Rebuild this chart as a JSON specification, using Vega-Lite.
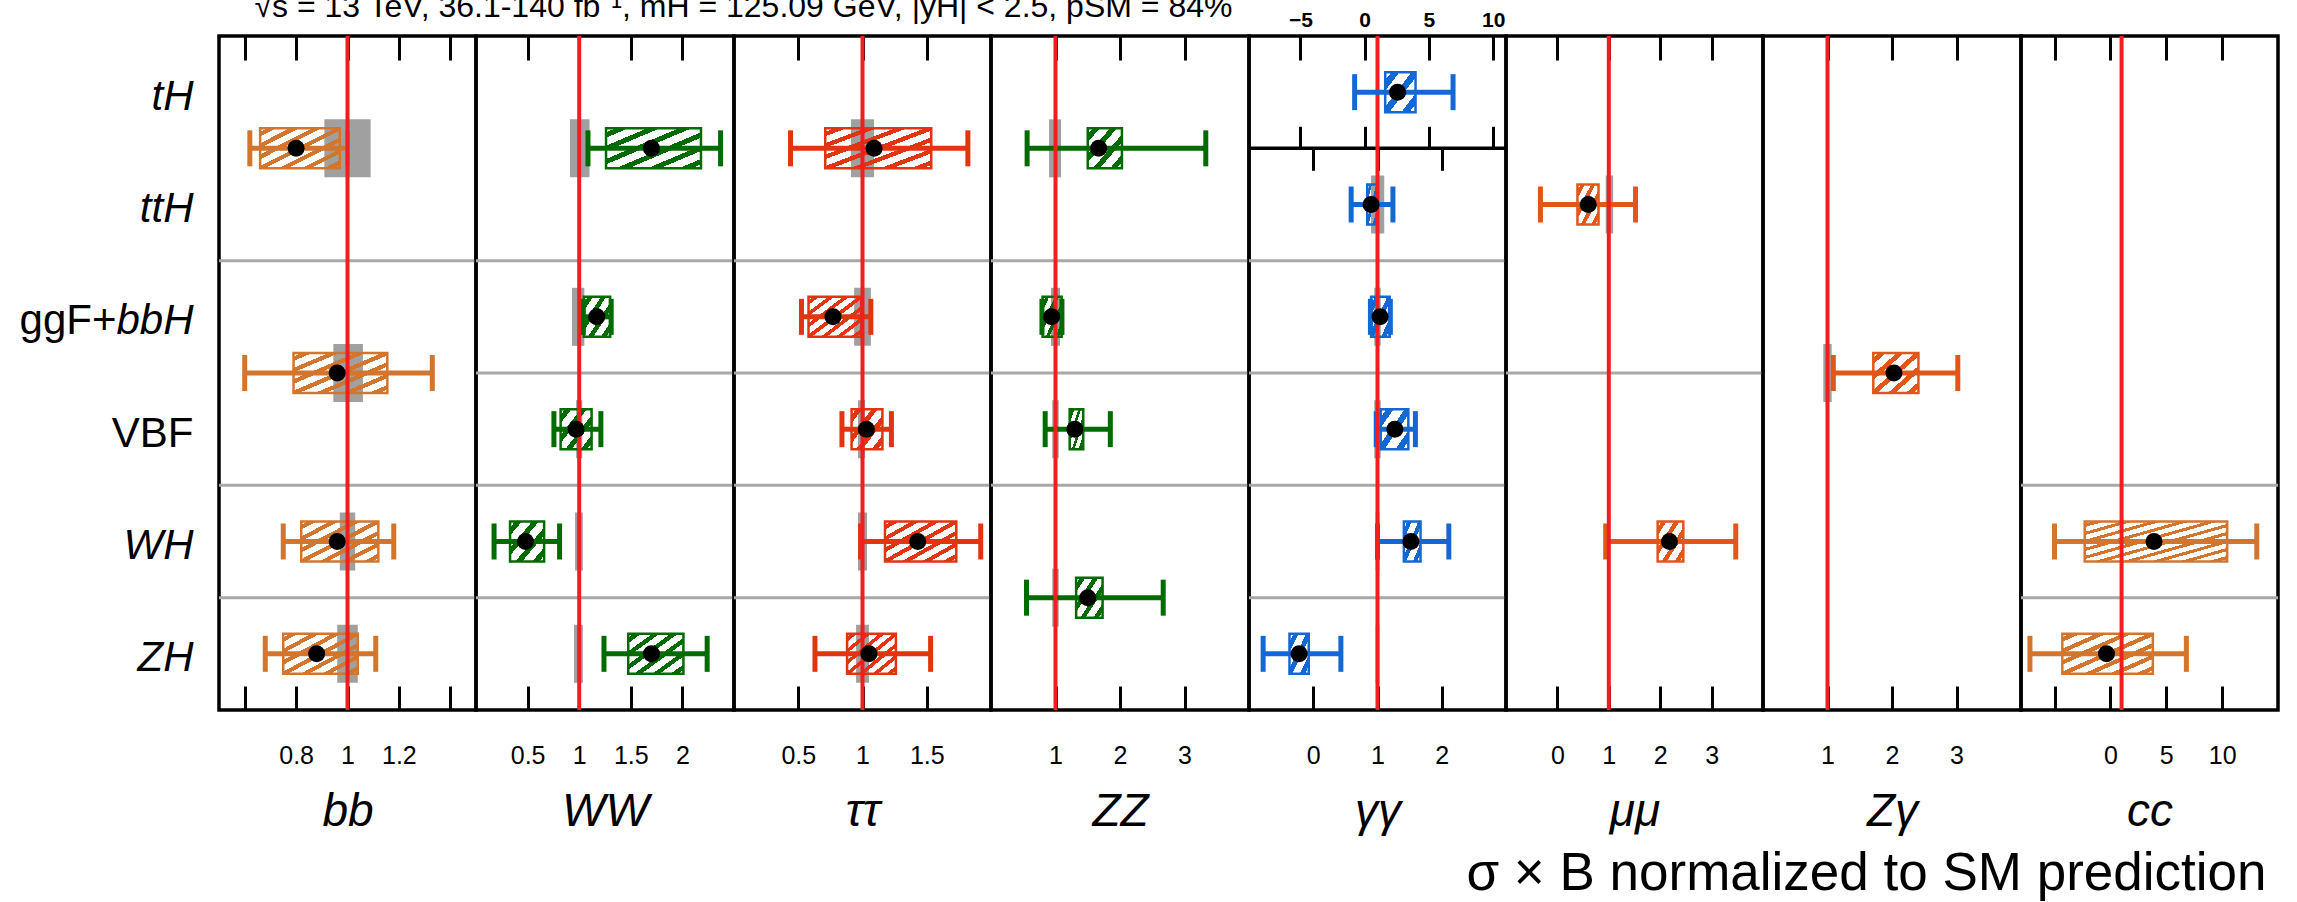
{
"$schema":"https://vega.github.io/schema/vega-lite/v6.json",
"background":"white",
"padding":{"left":0,"top":-12,"right":0,"bottom":0},
"spacing":0,
"bounds":"flush",
"datasets":{"meas":[
{"ch":"bb","proc":"ttH+tH","val":0.80,"slo":0.66,"shi":0.97,"tlo":0.62,"thi":1.00,"smlo":0.91,"smhi":1.09},
{"ch":"bb","proc":"ggF+VBF","val":0.96,"slo":0.79,"shi":1.155,"tlo":0.60,"thi":1.33,"smlo":0.945,"smhi":1.06},
{"ch":"bb","proc":"WH","val":0.96,"slo":0.82,"shi":1.12,"tlo":0.75,"thi":1.18,"smlo":0.97,"smhi":1.03},
{"ch":"bb","proc":"ZH","val":0.88,"slo":0.75,"shi":1.04,"tlo":0.68,"thi":1.11,"smlo":0.96,"smhi":1.04},
{"ch":"WW","proc":"ttH+tH","val":1.70,"slo":1.26,"shi":2.18,"tlo":1.085,"thi":2.37,"smlo":0.91,"smhi":1.10},
{"ch":"WW","proc":"ggF+bbH","val":1.17,"slo":1.045,"shi":1.30,"tlo":1.04,"thi":1.31,"smlo":0.93,"smhi":1.05},
{"ch":"WW","proc":"VBF","val":0.97,"slo":0.82,"shi":1.12,"tlo":0.755,"thi":1.21,"smlo":0.97,"smhi":1.03},
{"ch":"WW","proc":"WH","val":0.48,"slo":0.33,"shi":0.66,"tlo":0.175,"thi":0.81,"smlo":0.96,"smhi":1.035},
{"ch":"WW","proc":"ZH","val":1.70,"slo":1.475,"shi":2.01,"tlo":1.24,"thi":2.24,"smlo":0.95,"smhi":1.035},
{"ch":"tautau","proc":"ttH+tH","val":1.09,"slo":0.71,"shi":1.535,"tlo":0.44,"thi":1.82,"smlo":0.91,"smhi":1.09},
{"ch":"tautau","proc":"ggF+bbH","val":0.77,"slo":0.58,"shi":0.99,"tlo":0.525,"thi":1.065,"smlo":0.935,"smhi":1.065},
{"ch":"tautau","proc":"VBF","val":1.03,"slo":0.915,"shi":1.155,"tlo":0.84,"thi":1.225,"smlo":0.965,"smhi":1.02},
{"ch":"tautau","proc":"WH","val":1.43,"slo":1.175,"shi":1.73,"tlo":0.985,"thi":1.92,"smlo":0.965,"smhi":1.035},
{"ch":"tautau","proc":"ZH","val":1.05,"slo":0.88,"shi":1.26,"tlo":0.63,"thi":1.53,"smlo":0.95,"smhi":1.05},
{"ch":"ZZ","proc":"ttH+tH","val":1.67,"slo":1.50,"shi":2.03,"tlo":0.56,"thi":3.33,"smlo":0.90,"smhi":1.085},
{"ch":"ZZ","proc":"ggF+bbH","val":0.94,"slo":0.80,"shi":1.095,"tlo":0.79,"thi":1.10,"smlo":0.93,"smhi":1.07},
{"ch":"ZZ","proc":"VBF","val":1.30,"slo":1.22,"shi":1.43,"tlo":0.84,"thi":1.85,"smlo":0.95,"smhi":1.05},
{"ch":"ZZ","proc":"WH+ZH","val":1.50,"slo":1.32,"shi":1.73,"tlo":0.55,"thi":2.67,"smlo":0.95,"smhi":1.05},
{"ch":"gamgam","proc":"tH","val":2.56,"slo":1.6,"shi":3.96,"tlo":-0.78,"thi":6.88,"smlo":null,"smhi":null},
{"ch":"gamgam","proc":"ttH","val":0.90,"slo":0.84,"shi":1.0,"tlo":0.59,"thi":1.24,"smlo":0.90,"smhi":1.105},
{"ch":"gamgam","proc":"ggF+bbH","val":1.04,"slo":0.90,"shi":1.19,"tlo":0.89,"thi":1.20,"smlo":0.95,"smhi":1.05},
{"ch":"gamgam","proc":"VBF","val":1.27,"slo":1.05,"shi":1.48,"tlo":0.98,"thi":1.59,"smlo":0.95,"smhi":1.05},
{"ch":"gamgam","proc":"WH","val":1.52,"slo":1.41,"shi":1.67,"tlo":1.0,"thi":2.11,"smlo":0.97,"smhi":1.03},
{"ch":"gamgam","proc":"ZH","val":-0.22,"slo":-0.37,"shi":-0.07,"tlo":-0.78,"thi":0.43,"smlo":0.97,"smhi":1.03},
{"ch":"mumu","proc":"ttH","val":0.60,"slo":0.39,"shi":0.80,"tlo":-0.33,"thi":1.52,"smlo":0.94,"smhi":1.085},
{"ch":"mumu","proc":"WH","val":2.18,"slo":1.95,"shi":2.45,"tlo":0.94,"thi":3.47,"smlo":null,"smhi":null},
{"ch":"Zgam","proc":"ggF+VBF","val":2.03,"slo":1.71,"shi":2.41,"tlo":1.09,"thi":3.02,"smlo":0.935,"smhi":1.065},
{"ch":"cc","proc":"WH","val":3.9,"slo":-2.3,"shi":10.45,"tlo":-5.0,"thi":13.1,"smlo":null,"smhi":null},
{"ch":"cc","proc":"ZH","val":-0.35,"slo":-4.3,"shi":3.8,"tlo":-7.2,"thi":6.8,"smlo":null,"smhi":null}
]},
"data":{"name":"meas"},
"resolve":{"scale":{"x":"independent","y":"independent"},"axis":{"x":"independent","y":"independent"}},
"config":{
"font":"Liberation Sans",
"view":{"stroke":"black","strokeWidth":3.5},
"axis":{"grid":false,"domain":false,"tickColor":"black","tickWidth":3,"labelFont":"Liberation Sans","titleFont":"Liberation Sans","labelColor":"black","titleColor":"black","titleFontWeight":"normal","labelFontSize":25,"titleFontSize":46,"minExtent":0,"labelOverlap":false,"labelFlush":false,"labelBound":false}
},
"hconcat":[
{"width":257,"height":674,
"resolve":{"axis":{"x":"independent","y":"independent"}},
"layer":[
{"data":{"values":[{"proc":"s2"},{"proc":"s4"},{"proc":"WH+ZH"}]},"mark":{"type":"rule","color":"#a8a8a8","strokeWidth":3},"encoding":{"y":{"field":"proc","type":"nominal","scale":{"type":"point","domain":["tH","ttH+tH","ttH","s2","ggF+bbH","ggF+VBF","VBF","s4","WH","WH+ZH","ZH"],"padding":1},"axis":null}}},
{"transform":[{"filter":"datum.ch == 'bb' && isValid(datum.smlo)"}],"mark":{"type":"bar","size":58,"color":"#a0a0a0"},"encoding":{"x":{"field":"smlo","type":"quantitative","scale":{"domain":[0.5,1.5],"nice":false,"zero":false},"axis":null},"x2":{"field":"smhi"},"y":{"field":"proc","type":"nominal","scale":{"type":"point","domain":["tH","ttH+tH","ttH","s2","ggF+bbH","ggF+VBF","VBF","s4","WH","WH+ZH","ZH"],"padding":1},"axis":null}}},
{"transform":[{"filter":"datum.ch == 'bb'"}],"mark":{"type":"bar","size":40,"stroke":"#d4752e","strokeWidth":2.5},"encoding":{"x":{"field":"slo","type":"quantitative","scale":{"domain":[0.5,1.5],"nice":false,"zero":false},"axis":null},"x2":{"field":"shi"},"y":{"field":"proc","type":"nominal","scale":{"type":"point","domain":["tH","ttH+tH","ttH","s2","ggF+bbH","ggF+VBF","VBF","s4","WH","WH+ZH","ZH"],"padding":1},"axis":null},
"fill":{"value":{"gradient":"linear","x1":0,"y1":0,"x2":1,"y2":1,"stops":[{"offset":0,"color":"transparent"},{"offset":0.043,"color":"transparent"},{"offset":0.043,"color":"#d4752e"},{"offset":0.1,"color":"#d4752e"},{"offset":0.1,"color":"transparent"},{"offset":0.186,"color":"transparent"},{"offset":0.186,"color":"#d4752e"},{"offset":0.243,"color":"#d4752e"},{"offset":0.243,"color":"transparent"},{"offset":0.329,"color":"transparent"},{"offset":0.329,"color":"#d4752e"},{"offset":0.386,"color":"#d4752e"},{"offset":0.386,"color":"transparent"},{"offset":0.471,"color":"transparent"},{"offset":0.471,"color":"#d4752e"},{"offset":0.529,"color":"#d4752e"},{"offset":0.529,"color":"transparent"},{"offset":0.614,"color":"transparent"},{"offset":0.614,"color":"#d4752e"},{"offset":0.671,"color":"#d4752e"},{"offset":0.671,"color":"transparent"},{"offset":0.757,"color":"transparent"},{"offset":0.757,"color":"#d4752e"},{"offset":0.814,"color":"#d4752e"},{"offset":0.814,"color":"transparent"},{"offset":0.9,"color":"transparent"},{"offset":0.9,"color":"#d4752e"},{"offset":0.957,"color":"#d4752e"},{"offset":0.957,"color":"transparent"},{"offset":1,"color":"transparent"}]}}}},
{"transform":[{"filter":"datum.ch == 'bb'"}],"mark":{"type":"rule","color":"#d4752e","strokeWidth":5},"encoding":{"x":{"field":"tlo","type":"quantitative","scale":{"domain":[0.5,1.5],"nice":false,"zero":false},"axis":{"orient":"top","offset":-24,"tickSize":24,"values":[0.6,0.8,1,1.2,1.4],"labels":false,"maxExtent":0,"title":"√s = 13 TeV, 36.1-140 fb⁻¹, mH = 125.09 GeV, |yH| < 2.5, pSM = 84%","titleX":35,"titleY":-44,"titleAlign":"left","titleAnchor":"start","titleBaseline":"alphabetic","titleFontSize":32,"titleFontStyle":"normal"}},"x2":{"field":"thi"},"y":{"field":"proc","type":"nominal","scale":{"type":"point","domain":["tH","ttH+tH","ttH","s2","ggF+bbH","ggF+VBF","VBF","s4","WH","WH+ZH","ZH"],"padding":1},"axis":null}}},
{"transform":[{"filter":"datum.ch == 'bb'"}],"mark":{"type":"tick","orient":"vertical","size":36,"thickness":5,"color":"#d4752e","opacity":1},"encoding":{"x":{"field":"tlo","type":"quantitative","scale":{"domain":[0.5,1.5],"nice":false,"zero":false},"axis":null},"y":{"field":"proc","type":"nominal","scale":{"type":"point","domain":["tH","ttH+tH","ttH","s2","ggF+bbH","ggF+VBF","VBF","s4","WH","WH+ZH","ZH"],"padding":1},"axis":{"orient":"left","values":["ggF+bbH"],"labelExpr":"'ggF+'","labelFontStyle":"normal","ticks":false,"labelPadding":103,"labelFontSize":42,"labelOffset":4,"labelBaseline":"middle","title":null,"minExtent":217,"maxExtent":217}}}},
{"transform":[{"filter":"datum.ch == 'bb'"}],"mark":{"type":"tick","orient":"vertical","size":36,"thickness":5,"color":"#d4752e","opacity":1},"encoding":{"x":{"field":"thi","type":"quantitative","scale":{"domain":[0.5,1.5],"nice":false,"zero":false},"axis":null},"y":{"field":"proc","type":"nominal","scale":{"type":"point","domain":["tH","ttH+tH","ttH","s2","ggF+bbH","ggF+VBF","VBF","s4","WH","WH+ZH","ZH"],"padding":1},"axis":null}}},
{"data":{"values":[{}]},"mark":{"type":"rule","color":"#f01e1e","strokeWidth":4},"encoding":{"x":{"datum":1,"type":"quantitative","scale":{"domain":[0.5,1.5],"nice":false,"zero":false},"axis":null}}},
{"transform":[{"filter":"datum.ch == 'bb'"}],"mark":{"type":"point","filled":true,"color":"black","size":290,"opacity":1},"encoding":{"x":{"field":"val","type":"quantitative","scale":{"domain":[0.5,1.5],"nice":false,"zero":false},"axis":{"orient":"bottom","offset":-24,"tickSize":24,"values":[0.6,0.8,1,1.2,1.4],"format":"~g","labelExpr":"datum.value == 0.6 || datum.value == 1.4 ? '' : datum.label","labelPadding":53,"labelBaseline":"alphabetic","title":"bb","titleY":139,"titleBaseline":"alphabetic","titleFontStyle":"italic"}},"y":{"field":"proc","type":"nominal","scale":{"type":"point","domain":["tH","ttH+tH","ttH","s2","ggF+bbH","ggF+VBF","VBF","s4","WH","WH+ZH","ZH"],"padding":1},"axis":{"orient":"left","values":["tH","ttH","ggF+bbH","VBF","WH","ZH"],"labelExpr":"datum.value == 'ggF+bbH' ? 'bbH' : datum.value","labelFontStyle":{"condition":{"test":"datum.value == 'VBF'","value":"normal"},"value":"italic"},"ticks":false,"labelPadding":26,"labelFontSize":42,"labelOffset":4,"labelBaseline":"middle","title":null,"minExtent":217,"maxExtent":217}}}}
]},
{"width":258,"height":674,
"resolve":{"axis":{"x":"independent","y":"independent"}},
"layer":[
{"data":{"values":[{"proc":"s2"},{"proc":"ggF+VBF"},{"proc":"s4"},{"proc":"WH+ZH"}]},"mark":{"type":"rule","color":"#a8a8a8","strokeWidth":3},"encoding":{"y":{"field":"proc","type":"nominal","scale":{"type":"point","domain":["tH","ttH+tH","ttH","s2","ggF+bbH","ggF+VBF","VBF","s4","WH","WH+ZH","ZH"],"padding":1},"axis":null}}},
{"transform":[{"filter":"datum.ch == 'WW' && isValid(datum.smlo)"}],"mark":{"type":"bar","size":58,"color":"#a0a0a0"},"encoding":{"x":{"field":"smlo","type":"quantitative","scale":{"domain":[0,2.5],"nice":false,"zero":false},"axis":null},"x2":{"field":"smhi"},"y":{"field":"proc","type":"nominal","scale":{"type":"point","domain":["tH","ttH+tH","ttH","s2","ggF+bbH","ggF+VBF","VBF","s4","WH","WH+ZH","ZH"],"padding":1},"axis":null}}},
{"transform":[{"filter":"datum.ch == 'WW'"}],"mark":{"type":"bar","size":40,"stroke":"#006b00","strokeWidth":2.5},"encoding":{"x":{"field":"slo","type":"quantitative","scale":{"domain":[0,2.5],"nice":false,"zero":false},"axis":null},"x2":{"field":"shi"},"y":{"field":"proc","type":"nominal","scale":{"type":"point","domain":["tH","ttH+tH","ttH","s2","ggF+bbH","ggF+VBF","VBF","s4","WH","WH+ZH","ZH"],"padding":1},"axis":null},
"fill":{"condition":[{"test":"datum.shi - datum.slo < 0.45","value":{"gradient":"linear","x1":0,"y1":0,"x2":1,"y2":1,"stops":[{"offset":0,"color":"transparent"},{"offset":0.075,"color":"transparent"},{"offset":0.075,"color":"#006b00"},{"offset":0.175,"color":"#006b00"},{"offset":0.175,"color":"transparent"},{"offset":0.325,"color":"transparent"},{"offset":0.325,"color":"#006b00"},{"offset":0.425,"color":"#006b00"},{"offset":0.425,"color":"transparent"},{"offset":0.575,"color":"transparent"},{"offset":0.575,"color":"#006b00"},{"offset":0.675,"color":"#006b00"},{"offset":0.675,"color":"transparent"},{"offset":0.825,"color":"transparent"},{"offset":0.825,"color":"#006b00"},{"offset":0.925,"color":"#006b00"},{"offset":0.925,"color":"transparent"},{"offset":1,"color":"transparent"}]}}],
"value":{"gradient":"linear","x1":0,"y1":0,"x2":1,"y2":1,"stops":[{"offset":0,"color":"transparent"},{"offset":0.05,"color":"transparent"},{"offset":0.05,"color":"#006b00"},{"offset":0.117,"color":"#006b00"},{"offset":0.117,"color":"transparent"},{"offset":0.217,"color":"transparent"},{"offset":0.217,"color":"#006b00"},{"offset":0.283,"color":"#006b00"},{"offset":0.283,"color":"transparent"},{"offset":0.383,"color":"transparent"},{"offset":0.383,"color":"#006b00"},{"offset":0.45,"color":"#006b00"},{"offset":0.45,"color":"transparent"},{"offset":0.55,"color":"transparent"},{"offset":0.55,"color":"#006b00"},{"offset":0.617,"color":"#006b00"},{"offset":0.617,"color":"transparent"},{"offset":0.717,"color":"transparent"},{"offset":0.717,"color":"#006b00"},{"offset":0.783,"color":"#006b00"},{"offset":0.783,"color":"transparent"},{"offset":0.883,"color":"transparent"},{"offset":0.883,"color":"#006b00"},{"offset":0.95,"color":"#006b00"},{"offset":0.95,"color":"transparent"},{"offset":1,"color":"transparent"}]}}}},
{"transform":[{"filter":"datum.ch == 'WW'"}],"mark":{"type":"rule","color":"#006b00","strokeWidth":5},"encoding":{"x":{"field":"tlo","type":"quantitative","scale":{"domain":[0,2.5],"nice":false,"zero":false},"axis":{"orient":"top","offset":-24,"tickSize":24,"values":[0.5,1,1.5,2],"labels":false,"maxExtent":0,"title":null}},"x2":{"field":"thi"},"y":{"field":"proc","type":"nominal","scale":{"type":"point","domain":["tH","ttH+tH","ttH","s2","ggF+bbH","ggF+VBF","VBF","s4","WH","WH+ZH","ZH"],"padding":1},"axis":null}}},
{"transform":[{"filter":"datum.ch == 'WW'"}],"mark":{"type":"tick","orient":"vertical","size":36,"thickness":5,"color":"#006b00","opacity":1},"encoding":{"x":{"field":"tlo","type":"quantitative","scale":{"domain":[0,2.5],"nice":false,"zero":false},"axis":null},"y":{"field":"proc","type":"nominal","scale":{"type":"point","domain":["tH","ttH+tH","ttH","s2","ggF+bbH","ggF+VBF","VBF","s4","WH","WH+ZH","ZH"],"padding":1},"axis":null}}},
{"transform":[{"filter":"datum.ch == 'WW'"}],"mark":{"type":"tick","orient":"vertical","size":36,"thickness":5,"color":"#006b00","opacity":1},"encoding":{"x":{"field":"thi","type":"quantitative","scale":{"domain":[0,2.5],"nice":false,"zero":false},"axis":null},"y":{"field":"proc","type":"nominal","scale":{"type":"point","domain":["tH","ttH+tH","ttH","s2","ggF+bbH","ggF+VBF","VBF","s4","WH","WH+ZH","ZH"],"padding":1},"axis":null}}},
{"data":{"values":[{}]},"mark":{"type":"rule","color":"#f01e1e","strokeWidth":4},"encoding":{"x":{"datum":1,"type":"quantitative","scale":{"domain":[0,2.5],"nice":false,"zero":false},"axis":null}}},
{"transform":[{"filter":"datum.ch == 'WW'"}],"mark":{"type":"point","filled":true,"color":"black","size":290,"opacity":1},"encoding":{"x":{"field":"val","type":"quantitative","scale":{"domain":[0,2.5],"nice":false,"zero":false},"axis":{"orient":"bottom","offset":-24,"tickSize":24,"values":[0.5,1,1.5,2],"format":"~g","labelPadding":53,"labelBaseline":"alphabetic","title":"WW","titleY":139,"titleBaseline":"alphabetic","titleFontStyle":"italic"}},"y":{"field":"proc","type":"nominal","scale":{"type":"point","domain":["tH","ttH+tH","ttH","s2","ggF+bbH","ggF+VBF","VBF","s4","WH","WH+ZH","ZH"],"padding":1},"axis":null}}}
]},
{"width":257,"height":674,
"resolve":{"axis":{"x":"independent","y":"independent"}},
"layer":[
{"data":{"values":[{"proc":"s2"},{"proc":"ggF+VBF"},{"proc":"s4"},{"proc":"WH+ZH"}]},"mark":{"type":"rule","color":"#a8a8a8","strokeWidth":3},"encoding":{"y":{"field":"proc","type":"nominal","scale":{"type":"point","domain":["tH","ttH+tH","ttH","s2","ggF+bbH","ggF+VBF","VBF","s4","WH","WH+ZH","ZH"],"padding":1},"axis":null}}},
{"transform":[{"filter":"datum.ch == 'tautau' && isValid(datum.smlo)"}],"mark":{"type":"bar","size":58,"color":"#a0a0a0"},"encoding":{"x":{"field":"smlo","type":"quantitative","scale":{"domain":[0,2],"nice":false,"zero":false},"axis":null},"x2":{"field":"smhi"},"y":{"field":"proc","type":"nominal","scale":{"type":"point","domain":["tH","ttH+tH","ttH","s2","ggF+bbH","ggF+VBF","VBF","s4","WH","WH+ZH","ZH"],"padding":1},"axis":null}}},
{"transform":[{"filter":"datum.ch == 'tautau'"}],"mark":{"type":"bar","size":40,"stroke":"#e1340f","strokeWidth":2.5},"encoding":{"x":{"field":"slo","type":"quantitative","scale":{"domain":[0,2],"nice":false,"zero":false},"axis":null},"x2":{"field":"shi"},"y":{"field":"proc","type":"nominal","scale":{"type":"point","domain":["tH","ttH+tH","ttH","s2","ggF+bbH","ggF+VBF","VBF","s4","WH","WH+ZH","ZH"],"padding":1},"axis":null},
"fill":{"condition":[{"test":"datum.shi - datum.slo < 0.3","value":{"gradient":"linear","x1":0,"y1":0,"x2":1,"y2":1,"stops":[{"offset":0,"color":"transparent"},{"offset":0.075,"color":"transparent"},{"offset":0.075,"color":"#e1340f"},{"offset":0.175,"color":"#e1340f"},{"offset":0.175,"color":"transparent"},{"offset":0.325,"color":"transparent"},{"offset":0.325,"color":"#e1340f"},{"offset":0.425,"color":"#e1340f"},{"offset":0.425,"color":"transparent"},{"offset":0.575,"color":"transparent"},{"offset":0.575,"color":"#e1340f"},{"offset":0.675,"color":"#e1340f"},{"offset":0.675,"color":"transparent"},{"offset":0.825,"color":"transparent"},{"offset":0.825,"color":"#e1340f"},{"offset":0.925,"color":"#e1340f"},{"offset":0.925,"color":"transparent"},{"offset":1,"color":"transparent"}]}}],
"value":{"gradient":"linear","x1":0,"y1":0,"x2":1,"y2":1,"stops":[{"offset":0,"color":"transparent"},{"offset":0.043,"color":"transparent"},{"offset":0.043,"color":"#e1340f"},{"offset":0.1,"color":"#e1340f"},{"offset":0.1,"color":"transparent"},{"offset":0.186,"color":"transparent"},{"offset":0.186,"color":"#e1340f"},{"offset":0.243,"color":"#e1340f"},{"offset":0.243,"color":"transparent"},{"offset":0.329,"color":"transparent"},{"offset":0.329,"color":"#e1340f"},{"offset":0.386,"color":"#e1340f"},{"offset":0.386,"color":"transparent"},{"offset":0.471,"color":"transparent"},{"offset":0.471,"color":"#e1340f"},{"offset":0.529,"color":"#e1340f"},{"offset":0.529,"color":"transparent"},{"offset":0.614,"color":"transparent"},{"offset":0.614,"color":"#e1340f"},{"offset":0.671,"color":"#e1340f"},{"offset":0.671,"color":"transparent"},{"offset":0.757,"color":"transparent"},{"offset":0.757,"color":"#e1340f"},{"offset":0.814,"color":"#e1340f"},{"offset":0.814,"color":"transparent"},{"offset":0.9,"color":"transparent"},{"offset":0.9,"color":"#e1340f"},{"offset":0.957,"color":"#e1340f"},{"offset":0.957,"color":"transparent"},{"offset":1,"color":"transparent"}]}}}},
{"transform":[{"filter":"datum.ch == 'tautau'"}],"mark":{"type":"rule","color":"#e1340f","strokeWidth":5},"encoding":{"x":{"field":"tlo","type":"quantitative","scale":{"domain":[0,2],"nice":false,"zero":false},"axis":{"orient":"top","offset":-24,"tickSize":24,"values":[0.5,1,1.5],"labels":false,"maxExtent":0,"title":null}},"x2":{"field":"thi"},"y":{"field":"proc","type":"nominal","scale":{"type":"point","domain":["tH","ttH+tH","ttH","s2","ggF+bbH","ggF+VBF","VBF","s4","WH","WH+ZH","ZH"],"padding":1},"axis":null}}},
{"transform":[{"filter":"datum.ch == 'tautau'"}],"mark":{"type":"tick","orient":"vertical","size":36,"thickness":5,"color":"#e1340f","opacity":1},"encoding":{"x":{"field":"tlo","type":"quantitative","scale":{"domain":[0,2],"nice":false,"zero":false},"axis":null},"y":{"field":"proc","type":"nominal","scale":{"type":"point","domain":["tH","ttH+tH","ttH","s2","ggF+bbH","ggF+VBF","VBF","s4","WH","WH+ZH","ZH"],"padding":1},"axis":null}}},
{"transform":[{"filter":"datum.ch == 'tautau'"}],"mark":{"type":"tick","orient":"vertical","size":36,"thickness":5,"color":"#e1340f","opacity":1},"encoding":{"x":{"field":"thi","type":"quantitative","scale":{"domain":[0,2],"nice":false,"zero":false},"axis":null},"y":{"field":"proc","type":"nominal","scale":{"type":"point","domain":["tH","ttH+tH","ttH","s2","ggF+bbH","ggF+VBF","VBF","s4","WH","WH+ZH","ZH"],"padding":1},"axis":null}}},
{"data":{"values":[{}]},"mark":{"type":"rule","color":"#f01e1e","strokeWidth":4},"encoding":{"x":{"datum":1,"type":"quantitative","scale":{"domain":[0,2],"nice":false,"zero":false},"axis":null}}},
{"transform":[{"filter":"datum.ch == 'tautau'"}],"mark":{"type":"point","filled":true,"color":"black","size":290,"opacity":1},"encoding":{"x":{"field":"val","type":"quantitative","scale":{"domain":[0,2],"nice":false,"zero":false},"axis":{"orient":"bottom","offset":-24,"tickSize":24,"values":[0.5,1,1.5],"format":"~g","labelPadding":53,"labelBaseline":"alphabetic","title":"ττ","titleY":139,"titleBaseline":"alphabetic","titleFontStyle":"italic"}},"y":{"field":"proc","type":"nominal","scale":{"type":"point","domain":["tH","ttH+tH","ttH","s2","ggF+bbH","ggF+VBF","VBF","s4","WH","WH+ZH","ZH"],"padding":1},"axis":null}}}
]},
{"width":258,"height":674,
"resolve":{"axis":{"x":"independent","y":"independent"}},
"layer":[
{"data":{"values":[{"proc":"s2"},{"proc":"ggF+VBF"},{"proc":"s4"}]},"mark":{"type":"rule","color":"#a8a8a8","strokeWidth":3},"encoding":{"y":{"field":"proc","type":"nominal","scale":{"type":"point","domain":["tH","ttH+tH","ttH","s2","ggF+bbH","ggF+VBF","VBF","s4","WH","WH+ZH","ZH"],"padding":1},"axis":null}}},
{"transform":[{"filter":"datum.ch == 'ZZ' && isValid(datum.smlo)"}],"mark":{"type":"bar","size":58,"color":"#a0a0a0"},"encoding":{"x":{"field":"smlo","type":"quantitative","scale":{"domain":[0,4],"nice":false,"zero":false},"axis":null},"x2":{"field":"smhi"},"y":{"field":"proc","type":"nominal","scale":{"type":"point","domain":["tH","ttH+tH","ttH","s2","ggF+bbH","ggF+VBF","VBF","s4","WH","WH+ZH","ZH"],"padding":1},"axis":null}}},
{"transform":[{"filter":"datum.ch == 'ZZ'"}],"mark":{"type":"bar","size":40,"stroke":"#006b00","strokeWidth":2.5},"encoding":{"x":{"field":"slo","type":"quantitative","scale":{"domain":[0,4],"nice":false,"zero":false},"axis":null},"x2":{"field":"shi"},"y":{"field":"proc","type":"nominal","scale":{"type":"point","domain":["tH","ttH+tH","ttH","s2","ggF+bbH","ggF+VBF","VBF","s4","WH","WH+ZH","ZH"],"padding":1},"axis":null},
"fill":{"value":{"gradient":"linear","x1":0,"y1":0,"x2":1,"y2":1,"stops":[{"offset":0,"color":"transparent"},{"offset":0.075,"color":"transparent"},{"offset":0.075,"color":"#006b00"},{"offset":0.175,"color":"#006b00"},{"offset":0.175,"color":"transparent"},{"offset":0.325,"color":"transparent"},{"offset":0.325,"color":"#006b00"},{"offset":0.425,"color":"#006b00"},{"offset":0.425,"color":"transparent"},{"offset":0.575,"color":"transparent"},{"offset":0.575,"color":"#006b00"},{"offset":0.675,"color":"#006b00"},{"offset":0.675,"color":"transparent"},{"offset":0.825,"color":"transparent"},{"offset":0.825,"color":"#006b00"},{"offset":0.925,"color":"#006b00"},{"offset":0.925,"color":"transparent"},{"offset":1,"color":"transparent"}]}}}},
{"transform":[{"filter":"datum.ch == 'ZZ'"}],"mark":{"type":"rule","color":"#006b00","strokeWidth":5},"encoding":{"x":{"field":"tlo","type":"quantitative","scale":{"domain":[0,4],"nice":false,"zero":false},"axis":{"orient":"top","offset":-24,"tickSize":24,"values":[1,2,3],"labels":false,"maxExtent":0,"title":null}},"x2":{"field":"thi"},"y":{"field":"proc","type":"nominal","scale":{"type":"point","domain":["tH","ttH+tH","ttH","s2","ggF+bbH","ggF+VBF","VBF","s4","WH","WH+ZH","ZH"],"padding":1},"axis":null}}},
{"transform":[{"filter":"datum.ch == 'ZZ'"}],"mark":{"type":"tick","orient":"vertical","size":36,"thickness":5,"color":"#006b00","opacity":1},"encoding":{"x":{"field":"tlo","type":"quantitative","scale":{"domain":[0,4],"nice":false,"zero":false},"axis":null},"y":{"field":"proc","type":"nominal","scale":{"type":"point","domain":["tH","ttH+tH","ttH","s2","ggF+bbH","ggF+VBF","VBF","s4","WH","WH+ZH","ZH"],"padding":1},"axis":null}}},
{"transform":[{"filter":"datum.ch == 'ZZ'"}],"mark":{"type":"tick","orient":"vertical","size":36,"thickness":5,"color":"#006b00","opacity":1},"encoding":{"x":{"field":"thi","type":"quantitative","scale":{"domain":[0,4],"nice":false,"zero":false},"axis":null},"y":{"field":"proc","type":"nominal","scale":{"type":"point","domain":["tH","ttH+tH","ttH","s2","ggF+bbH","ggF+VBF","VBF","s4","WH","WH+ZH","ZH"],"padding":1},"axis":null}}},
{"data":{"values":[{}]},"mark":{"type":"rule","color":"#f01e1e","strokeWidth":4},"encoding":{"x":{"datum":1,"type":"quantitative","scale":{"domain":[0,4],"nice":false,"zero":false},"axis":null}}},
{"transform":[{"filter":"datum.ch == 'ZZ'"}],"mark":{"type":"point","filled":true,"color":"black","size":290,"opacity":1},"encoding":{"x":{"field":"val","type":"quantitative","scale":{"domain":[0,4],"nice":false,"zero":false},"axis":{"orient":"bottom","offset":-24,"tickSize":24,"values":[1,2,3],"format":"~g","labelPadding":53,"labelBaseline":"alphabetic","title":"ZZ","titleY":139,"titleBaseline":"alphabetic","titleFontStyle":"italic"}},"y":{"field":"proc","type":"nominal","scale":{"type":"point","domain":["tH","ttH+tH","ttH","s2","ggF+bbH","ggF+VBF","VBF","s4","WH","WH+ZH","ZH"],"padding":1},"axis":null}}}
]},
{"width":257,"height":674,
"resolve":{"scale":{"x":"independent"},"axis":{"x":"independent","y":"independent"}},
"layer":[
{"resolve":{"axis":{"x":"independent","y":"independent"}},
"layer":[
{"data":{"values":[{"proc":"s2"},{"proc":"ggF+VBF"},{"proc":"s4"},{"proc":"WH+ZH"}]},"mark":{"type":"rule","color":"#a8a8a8","strokeWidth":3},"encoding":{"y":{"field":"proc","type":"nominal","scale":{"type":"point","domain":["tH","ttH+tH","ttH","s2","ggF+bbH","ggF+VBF","VBF","s4","WH","WH+ZH","ZH"],"padding":1},"axis":null}}},
{"data":{"values":[{"proc":"ttH+tH"}]},"mark":{"type":"rule","color":"black","strokeWidth":3.5},"encoding":{"y":{"field":"proc","type":"nominal","scale":{"type":"point","domain":["tH","ttH+tH","ttH","s2","ggF+bbH","ggF+VBF","VBF","s4","WH","WH+ZH","ZH"],"padding":1},"axis":null}}},
{"transform":[{"filter":"datum.ch == 'gamgam' && datum.proc != 'tH' && isValid(datum.smlo)"}],"mark":{"type":"bar","size":58,"color":"#a0a0a0"},"encoding":{"x":{"field":"smlo","type":"quantitative","scale":{"domain":[-1,3],"nice":false,"zero":false},"axis":null},"x2":{"field":"smhi"},"y":{"field":"proc","type":"nominal","scale":{"type":"point","domain":["tH","ttH+tH","ttH","s2","ggF+bbH","ggF+VBF","VBF","s4","WH","WH+ZH","ZH"],"padding":1},"axis":null}}},
{"transform":[{"filter":"datum.ch == 'gamgam' && datum.proc != 'tH'"}],"mark":{"type":"bar","size":40,"stroke":"#1468d4","strokeWidth":2.5},"encoding":{"x":{"field":"slo","type":"quantitative","scale":{"domain":[-1,3],"nice":false,"zero":false},"axis":null},"x2":{"field":"shi"},"y":{"field":"proc","type":"nominal","scale":{"type":"point","domain":["tH","ttH+tH","ttH","s2","ggF+bbH","ggF+VBF","VBF","s4","WH","WH+ZH","ZH"],"padding":1},"axis":null},
"fill":{"value":{"gradient":"linear","x1":0,"y1":0,"x2":1,"y2":1,"stops":[{"offset":0,"color":"transparent"},{"offset":0.1,"color":"transparent"},{"offset":0.1,"color":"#1468d4"},{"offset":0.233,"color":"#1468d4"},{"offset":0.233,"color":"transparent"},{"offset":0.433,"color":"transparent"},{"offset":0.433,"color":"#1468d4"},{"offset":0.567,"color":"#1468d4"},{"offset":0.567,"color":"transparent"},{"offset":0.767,"color":"transparent"},{"offset":0.767,"color":"#1468d4"},{"offset":0.9,"color":"#1468d4"},{"offset":0.9,"color":"transparent"},{"offset":1,"color":"transparent"}]}}}},
{"transform":[{"filter":"datum.ch == 'gamgam' && datum.proc != 'tH'"}],"mark":{"type":"rule","color":"#1468d4","strokeWidth":5},"encoding":{"x":{"field":"tlo","type":"quantitative","scale":{"domain":[-1,3],"nice":false,"zero":false},"axis":{"orient":"top","offset":-134.3,"tickSize":22,"values":[0,1,2],"labels":false,"maxExtent":0,"title":null}},"x2":{"field":"thi"},"y":{"field":"proc","type":"nominal","scale":{"type":"point","domain":["tH","ttH+tH","ttH","s2","ggF+bbH","ggF+VBF","VBF","s4","WH","WH+ZH","ZH"],"padding":1},"axis":null}}},
{"transform":[{"filter":"datum.ch == 'gamgam' && datum.proc != 'tH'"}],"mark":{"type":"tick","orient":"vertical","size":36,"thickness":5,"color":"#1468d4","opacity":1},"encoding":{"x":{"field":"tlo","type":"quantitative","scale":{"domain":[-1,3],"nice":false,"zero":false},"axis":null},"y":{"field":"proc","type":"nominal","scale":{"type":"point","domain":["tH","ttH+tH","ttH","s2","ggF+bbH","ggF+VBF","VBF","s4","WH","WH+ZH","ZH"],"padding":1},"axis":null}}},
{"transform":[{"filter":"datum.ch == 'gamgam' && datum.proc != 'tH'"}],"mark":{"type":"tick","orient":"vertical","size":36,"thickness":5,"color":"#1468d4","opacity":1},"encoding":{"x":{"field":"thi","type":"quantitative","scale":{"domain":[-1,3],"nice":false,"zero":false},"axis":null},"y":{"field":"proc","type":"nominal","scale":{"type":"point","domain":["tH","ttH+tH","ttH","s2","ggF+bbH","ggF+VBF","VBF","s4","WH","WH+ZH","ZH"],"padding":1},"axis":null}}},
{"data":{"values":[{}]},"mark":{"type":"rule","color":"#f01e1e","strokeWidth":4},"encoding":{"x":{"datum":1,"type":"quantitative","scale":{"domain":[-1,3],"nice":false,"zero":false},"axis":null}}},
{"transform":[{"filter":"datum.ch == 'gamgam' && datum.proc != 'tH'"}],"mark":{"type":"point","filled":true,"color":"black","size":290,"opacity":1},"encoding":{"x":{"field":"val","type":"quantitative","scale":{"domain":[-1,3],"nice":false,"zero":false},"axis":{"orient":"bottom","offset":-24,"tickSize":24,"values":[0,1,2],"format":"~g","labelPadding":53,"labelBaseline":"alphabetic","title":"γγ","titleY":139,"titleBaseline":"alphabetic","titleFontStyle":"italic"}},"y":{"field":"proc","type":"nominal","scale":{"type":"point","domain":["tH","ttH+tH","ttH","s2","ggF+bbH","ggF+VBF","VBF","s4","WH","WH+ZH","ZH"],"padding":1},"axis":null}}}
]},
{"resolve":{"axis":{"x":"independent","y":"independent"}},
"transform":[{"filter":"datum.ch == 'gamgam' && datum.proc == 'tH'"}],
"layer":[
{"mark":{"type":"bar","size":40,"stroke":"#1468d4","strokeWidth":2.5},"encoding":{"x":{"field":"slo","type":"quantitative","scale":{"domain":[-9,11],"nice":false,"zero":false},"axis":null},"x2":{"field":"shi"},"y":{"field":"proc","type":"nominal","scale":{"type":"point","domain":["tH","ttH+tH","ttH","s2","ggF+bbH","ggF+VBF","VBF","s4","WH","WH+ZH","ZH"],"padding":1},"axis":null},
"fill":{"value":{"gradient":"linear","x1":0,"y1":0,"x2":1,"y2":1,"stops":[{"offset":0,"color":"transparent"},{"offset":0.1,"color":"transparent"},{"offset":0.1,"color":"#1468d4"},{"offset":0.233,"color":"#1468d4"},{"offset":0.233,"color":"transparent"},{"offset":0.433,"color":"transparent"},{"offset":0.433,"color":"#1468d4"},{"offset":0.567,"color":"#1468d4"},{"offset":0.567,"color":"transparent"},{"offset":0.767,"color":"transparent"},{"offset":0.767,"color":"#1468d4"},{"offset":0.9,"color":"#1468d4"},{"offset":0.9,"color":"transparent"},{"offset":1,"color":"transparent"}]}}}},
{"mark":{"type":"rule","color":"#1468d4","strokeWidth":5},"encoding":{"x":{"field":"tlo","type":"quantitative","scale":{"domain":[-9,11],"nice":false,"zero":false},"axis":{"orient":"top","offset":-24,"tickSize":24,"values":[-5,0,5,10],"format":"d","labelPadding":10,"labelBaseline":"alphabetic","labelFontSize":21,"labelFontWeight":"bold","title":null}},"x2":{"field":"thi"},"y":{"field":"proc","type":"nominal","scale":{"type":"point","domain":["tH","ttH+tH","ttH","s2","ggF+bbH","ggF+VBF","VBF","s4","WH","WH+ZH","ZH"],"padding":1},"axis":null}}},
{"mark":{"type":"tick","orient":"vertical","size":36,"thickness":5,"color":"#1468d4","opacity":1},"encoding":{"x":{"field":"tlo","type":"quantitative","scale":{"domain":[-9,11],"nice":false,"zero":false},"axis":null},"y":{"field":"proc","type":"nominal","scale":{"type":"point","domain":["tH","ttH+tH","ttH","s2","ggF+bbH","ggF+VBF","VBF","s4","WH","WH+ZH","ZH"],"padding":1},"axis":null}}},
{"mark":{"type":"tick","orient":"vertical","size":36,"thickness":5,"color":"#1468d4","opacity":1},"encoding":{"x":{"field":"thi","type":"quantitative","scale":{"domain":[-9,11],"nice":false,"zero":false},"axis":{"orient":"bottom","offset":-583.7,"tickSize":22,"values":[-5,0,5,10],"labels":false,"maxExtent":0,"title":null}},"y":{"field":"proc","type":"nominal","scale":{"type":"point","domain":["tH","ttH+tH","ttH","s2","ggF+bbH","ggF+VBF","VBF","s4","WH","WH+ZH","ZH"],"padding":1},"axis":null}}},
{"mark":{"type":"point","filled":true,"color":"black","size":290,"opacity":1},"encoding":{"x":{"field":"val","type":"quantitative","scale":{"domain":[-9,11],"nice":false,"zero":false},"axis":null},"y":{"field":"proc","type":"nominal","scale":{"type":"point","domain":["tH","ttH+tH","ttH","s2","ggF+bbH","ggF+VBF","VBF","s4","WH","WH+ZH","ZH"],"padding":1},"axis":null}}}
]}
]},
{"width":257,"height":674,
"resolve":{"axis":{"x":"independent","y":"independent"}},
"layer":[
{"data":{"values":[{"proc":"ggF+VBF"}]},"mark":{"type":"rule","color":"#a8a8a8","strokeWidth":3},"encoding":{"y":{"field":"proc","type":"nominal","scale":{"type":"point","domain":["tH","ttH+tH","ttH","s2","ggF+bbH","ggF+VBF","VBF","s4","WH","WH+ZH","ZH"],"padding":1},"axis":null}}},
{"transform":[{"filter":"datum.ch == 'mumu' && isValid(datum.smlo)"}],"mark":{"type":"bar","size":58,"color":"#a0a0a0"},"encoding":{"x":{"field":"smlo","type":"quantitative","scale":{"domain":[-1,4],"nice":false,"zero":false},"axis":null},"x2":{"field":"smhi"},"y":{"field":"proc","type":"nominal","scale":{"type":"point","domain":["tH","ttH+tH","ttH","s2","ggF+bbH","ggF+VBF","VBF","s4","WH","WH+ZH","ZH"],"padding":1},"axis":null}}},
{"transform":[{"filter":"datum.ch == 'mumu'"}],"mark":{"type":"bar","size":40,"stroke":"#e2561a","strokeWidth":2.5},"encoding":{"x":{"field":"slo","type":"quantitative","scale":{"domain":[-1,4],"nice":false,"zero":false},"axis":null},"x2":{"field":"shi"},"y":{"field":"proc","type":"nominal","scale":{"type":"point","domain":["tH","ttH+tH","ttH","s2","ggF+bbH","ggF+VBF","VBF","s4","WH","WH+ZH","ZH"],"padding":1},"axis":null},
"fill":{"value":{"gradient":"linear","x1":0,"y1":0,"x2":1,"y2":1,"stops":[{"offset":0,"color":"transparent"},{"offset":0.075,"color":"transparent"},{"offset":0.075,"color":"#e2561a"},{"offset":0.175,"color":"#e2561a"},{"offset":0.175,"color":"transparent"},{"offset":0.325,"color":"transparent"},{"offset":0.325,"color":"#e2561a"},{"offset":0.425,"color":"#e2561a"},{"offset":0.425,"color":"transparent"},{"offset":0.575,"color":"transparent"},{"offset":0.575,"color":"#e2561a"},{"offset":0.675,"color":"#e2561a"},{"offset":0.675,"color":"transparent"},{"offset":0.825,"color":"transparent"},{"offset":0.825,"color":"#e2561a"},{"offset":0.925,"color":"#e2561a"},{"offset":0.925,"color":"transparent"},{"offset":1,"color":"transparent"}]}}}},
{"transform":[{"filter":"datum.ch == 'mumu'"}],"mark":{"type":"rule","color":"#e2561a","strokeWidth":5},"encoding":{"x":{"field":"tlo","type":"quantitative","scale":{"domain":[-1,4],"nice":false,"zero":false},"axis":{"orient":"top","offset":-24,"tickSize":24,"values":[0,1,2,3],"labels":false,"maxExtent":0,"title":null}},"x2":{"field":"thi"},"y":{"field":"proc","type":"nominal","scale":{"type":"point","domain":["tH","ttH+tH","ttH","s2","ggF+bbH","ggF+VBF","VBF","s4","WH","WH+ZH","ZH"],"padding":1},"axis":null}}},
{"transform":[{"filter":"datum.ch == 'mumu'"}],"mark":{"type":"tick","orient":"vertical","size":36,"thickness":5,"color":"#e2561a","opacity":1},"encoding":{"x":{"field":"tlo","type":"quantitative","scale":{"domain":[-1,4],"nice":false,"zero":false},"axis":null},"y":{"field":"proc","type":"nominal","scale":{"type":"point","domain":["tH","ttH+tH","ttH","s2","ggF+bbH","ggF+VBF","VBF","s4","WH","WH+ZH","ZH"],"padding":1},"axis":null}}},
{"transform":[{"filter":"datum.ch == 'mumu'"}],"mark":{"type":"tick","orient":"vertical","size":36,"thickness":5,"color":"#e2561a","opacity":1},"encoding":{"x":{"field":"thi","type":"quantitative","scale":{"domain":[-1,4],"nice":false,"zero":false},"axis":null},"y":{"field":"proc","type":"nominal","scale":{"type":"point","domain":["tH","ttH+tH","ttH","s2","ggF+bbH","ggF+VBF","VBF","s4","WH","WH+ZH","ZH"],"padding":1},"axis":null}}},
{"data":{"values":[{}]},"mark":{"type":"rule","color":"#f01e1e","strokeWidth":4},"encoding":{"x":{"datum":1,"type":"quantitative","scale":{"domain":[-1,4],"nice":false,"zero":false},"axis":null}}},
{"transform":[{"filter":"datum.ch == 'mumu'"}],"mark":{"type":"point","filled":true,"color":"black","size":290,"opacity":1},"encoding":{"x":{"field":"val","type":"quantitative","scale":{"domain":[-1,4],"nice":false,"zero":false},"axis":{"orient":"bottom","offset":-24,"tickSize":24,"values":[0,1,2,3],"format":"~g","labelPadding":53,"labelBaseline":"alphabetic","title":"μμ","titleY":139,"titleBaseline":"alphabetic","titleFontStyle":"italic"}},"y":{"field":"proc","type":"nominal","scale":{"type":"point","domain":["tH","ttH+tH","ttH","s2","ggF+bbH","ggF+VBF","VBF","s4","WH","WH+ZH","ZH"],"padding":1},"axis":null}}}
]},
{"width":258,"height":674,
"resolve":{"axis":{"x":"independent","y":"independent"}},
"layer":[
{"transform":[{"filter":"datum.ch == 'Zgam' && isValid(datum.smlo)"}],"mark":{"type":"bar","size":58,"color":"#a0a0a0"},"encoding":{"x":{"field":"smlo","type":"quantitative","scale":{"domain":[0,4],"nice":false,"zero":false},"axis":null},"x2":{"field":"smhi"},"y":{"field":"proc","type":"nominal","scale":{"type":"point","domain":["tH","ttH+tH","ttH","s2","ggF+bbH","ggF+VBF","VBF","s4","WH","WH+ZH","ZH"],"padding":1},"axis":null}}},
{"transform":[{"filter":"datum.ch == 'Zgam'"}],"mark":{"type":"bar","size":40,"stroke":"#e2561a","strokeWidth":2.5},"encoding":{"x":{"field":"slo","type":"quantitative","scale":{"domain":[0,4],"nice":false,"zero":false},"axis":null},"x2":{"field":"shi"},"y":{"field":"proc","type":"nominal","scale":{"type":"point","domain":["tH","ttH+tH","ttH","s2","ggF+bbH","ggF+VBF","VBF","s4","WH","WH+ZH","ZH"],"padding":1},"axis":null},
"fill":{"value":{"gradient":"linear","x1":0,"y1":0,"x2":1,"y2":1,"stops":[{"offset":0,"color":"transparent"},{"offset":0.06,"color":"transparent"},{"offset":0.06,"color":"#e2561a"},{"offset":0.14,"color":"#e2561a"},{"offset":0.14,"color":"transparent"},{"offset":0.26,"color":"transparent"},{"offset":0.26,"color":"#e2561a"},{"offset":0.34,"color":"#e2561a"},{"offset":0.34,"color":"transparent"},{"offset":0.46,"color":"transparent"},{"offset":0.46,"color":"#e2561a"},{"offset":0.54,"color":"#e2561a"},{"offset":0.54,"color":"transparent"},{"offset":0.66,"color":"transparent"},{"offset":0.66,"color":"#e2561a"},{"offset":0.74,"color":"#e2561a"},{"offset":0.74,"color":"transparent"},{"offset":0.86,"color":"transparent"},{"offset":0.86,"color":"#e2561a"},{"offset":0.94,"color":"#e2561a"},{"offset":0.94,"color":"transparent"},{"offset":1,"color":"transparent"}]}}}},
{"transform":[{"filter":"datum.ch == 'Zgam'"}],"mark":{"type":"rule","color":"#e2561a","strokeWidth":5},"encoding":{"x":{"field":"tlo","type":"quantitative","scale":{"domain":[0,4],"nice":false,"zero":false},"axis":{"orient":"top","offset":-24,"tickSize":24,"values":[1,2,3],"labels":false,"maxExtent":0,"title":null}},"x2":{"field":"thi"},"y":{"field":"proc","type":"nominal","scale":{"type":"point","domain":["tH","ttH+tH","ttH","s2","ggF+bbH","ggF+VBF","VBF","s4","WH","WH+ZH","ZH"],"padding":1},"axis":null}}},
{"transform":[{"filter":"datum.ch == 'Zgam'"}],"mark":{"type":"tick","orient":"vertical","size":36,"thickness":5,"color":"#e2561a","opacity":1},"encoding":{"x":{"field":"tlo","type":"quantitative","scale":{"domain":[0,4],"nice":false,"zero":false},"axis":null},"y":{"field":"proc","type":"nominal","scale":{"type":"point","domain":["tH","ttH+tH","ttH","s2","ggF+bbH","ggF+VBF","VBF","s4","WH","WH+ZH","ZH"],"padding":1},"axis":null}}},
{"transform":[{"filter":"datum.ch == 'Zgam'"}],"mark":{"type":"tick","orient":"vertical","size":36,"thickness":5,"color":"#e2561a","opacity":1},"encoding":{"x":{"field":"thi","type":"quantitative","scale":{"domain":[0,4],"nice":false,"zero":false},"axis":null},"y":{"field":"proc","type":"nominal","scale":{"type":"point","domain":["tH","ttH+tH","ttH","s2","ggF+bbH","ggF+VBF","VBF","s4","WH","WH+ZH","ZH"],"padding":1},"axis":null}}},
{"data":{"values":[{}]},"mark":{"type":"rule","color":"#f01e1e","strokeWidth":4},"encoding":{"x":{"datum":1,"type":"quantitative","scale":{"domain":[0,4],"nice":false,"zero":false},"axis":null}}},
{"transform":[{"filter":"datum.ch == 'Zgam'"}],"mark":{"type":"point","filled":true,"color":"black","size":290,"opacity":1},"encoding":{"x":{"field":"val","type":"quantitative","scale":{"domain":[0,4],"nice":false,"zero":false},"axis":{"orient":"bottom","offset":-24,"tickSize":24,"values":[1,2,3],"format":"~g","labelPadding":53,"labelBaseline":"alphabetic","title":"Zγ","titleY":139,"titleBaseline":"alphabetic","titleFontStyle":"italic"}},"y":{"field":"proc","type":"nominal","scale":{"type":"point","domain":["tH","ttH+tH","ttH","s2","ggF+bbH","ggF+VBF","VBF","s4","WH","WH+ZH","ZH"],"padding":1},"axis":null}}}
]},
{"width":257,"height":674,
"resolve":{"axis":{"x":"independent","y":"independent"}},
"layer":[
{"data":{"values":[{"proc":"s4"},{"proc":"WH+ZH"}]},"mark":{"type":"rule","color":"#a8a8a8","strokeWidth":3},"encoding":{"y":{"field":"proc","type":"nominal","scale":{"type":"point","domain":["tH","ttH+tH","ttH","s2","ggF+bbH","ggF+VBF","VBF","s4","WH","WH+ZH","ZH"],"padding":1},"axis":null}}},
{"transform":[{"filter":"datum.ch == 'cc'"}],"mark":{"type":"bar","size":40,"stroke":"#d4752e","strokeWidth":2.5},"encoding":{"x":{"field":"slo","type":"quantitative","scale":{"domain":[-8,15],"nice":false,"zero":false},"axis":null},"x2":{"field":"shi"},"y":{"field":"proc","type":"nominal","scale":{"type":"point","domain":["tH","ttH+tH","ttH","s2","ggF+bbH","ggF+VBF","VBF","s4","WH","WH+ZH","ZH"],"padding":1},"axis":null},
"fill":{"condition":[{"test":"datum.shi - datum.slo > 10","value":{"gradient":"linear","x1":0,"y1":0,"x2":1,"y2":1,"stops":[{"offset":0,"color":"transparent"},{"offset":0.03,"color":"transparent"},{"offset":0.03,"color":"#d4752e"},{"offset":0.07,"color":"#d4752e"},{"offset":0.07,"color":"transparent"},{"offset":0.13,"color":"transparent"},{"offset":0.13,"color":"#d4752e"},{"offset":0.17,"color":"#d4752e"},{"offset":0.17,"color":"transparent"},{"offset":0.23,"color":"transparent"},{"offset":0.23,"color":"#d4752e"},{"offset":0.27,"color":"#d4752e"},{"offset":0.27,"color":"transparent"},{"offset":0.33,"color":"transparent"},{"offset":0.33,"color":"#d4752e"},{"offset":0.37,"color":"#d4752e"},{"offset":0.37,"color":"transparent"},{"offset":0.43,"color":"transparent"},{"offset":0.43,"color":"#d4752e"},{"offset":0.47,"color":"#d4752e"},{"offset":0.47,"color":"transparent"},{"offset":0.53,"color":"transparent"},{"offset":0.53,"color":"#d4752e"},{"offset":0.57,"color":"#d4752e"},{"offset":0.57,"color":"transparent"},{"offset":0.63,"color":"transparent"},{"offset":0.63,"color":"#d4752e"},{"offset":0.67,"color":"#d4752e"},{"offset":0.67,"color":"transparent"},{"offset":0.73,"color":"transparent"},{"offset":0.73,"color":"#d4752e"},{"offset":0.77,"color":"#d4752e"},{"offset":0.77,"color":"transparent"},{"offset":0.83,"color":"transparent"},{"offset":0.83,"color":"#d4752e"},{"offset":0.87,"color":"#d4752e"},{"offset":0.87,"color":"transparent"},{"offset":0.93,"color":"transparent"},{"offset":0.93,"color":"#d4752e"},{"offset":0.97,"color":"#d4752e"},{"offset":0.97,"color":"transparent"},{"offset":1,"color":"transparent"}]}}],
"value":{"gradient":"linear","x1":0,"y1":0,"x2":1,"y2":1,"stops":[{"offset":0,"color":"transparent"},{"offset":0.043,"color":"transparent"},{"offset":0.043,"color":"#d4752e"},{"offset":0.1,"color":"#d4752e"},{"offset":0.1,"color":"transparent"},{"offset":0.186,"color":"transparent"},{"offset":0.186,"color":"#d4752e"},{"offset":0.243,"color":"#d4752e"},{"offset":0.243,"color":"transparent"},{"offset":0.329,"color":"transparent"},{"offset":0.329,"color":"#d4752e"},{"offset":0.386,"color":"#d4752e"},{"offset":0.386,"color":"transparent"},{"offset":0.471,"color":"transparent"},{"offset":0.471,"color":"#d4752e"},{"offset":0.529,"color":"#d4752e"},{"offset":0.529,"color":"transparent"},{"offset":0.614,"color":"transparent"},{"offset":0.614,"color":"#d4752e"},{"offset":0.671,"color":"#d4752e"},{"offset":0.671,"color":"transparent"},{"offset":0.757,"color":"transparent"},{"offset":0.757,"color":"#d4752e"},{"offset":0.814,"color":"#d4752e"},{"offset":0.814,"color":"transparent"},{"offset":0.9,"color":"transparent"},{"offset":0.9,"color":"#d4752e"},{"offset":0.957,"color":"#d4752e"},{"offset":0.957,"color":"transparent"},{"offset":1,"color":"transparent"}]}}}},
{"transform":[{"filter":"datum.ch == 'cc'"}],"mark":{"type":"rule","color":"#d4752e","strokeWidth":5},"encoding":{"x":{"field":"tlo","type":"quantitative","scale":{"domain":[-8,15],"nice":false,"zero":false},"axis":{"orient":"top","offset":-24,"tickSize":24,"values":[-5,0,5,10],"labels":false,"maxExtent":0,"title":null}},"x2":{"field":"thi"},"y":{"field":"proc","type":"nominal","scale":{"type":"point","domain":["tH","ttH+tH","ttH","s2","ggF+bbH","ggF+VBF","VBF","s4","WH","WH+ZH","ZH"],"padding":1},"axis":null}}},
{"transform":[{"filter":"datum.ch == 'cc'"}],"mark":{"type":"tick","orient":"vertical","size":36,"thickness":5,"color":"#d4752e","opacity":1},"encoding":{"x":{"field":"tlo","type":"quantitative","scale":{"domain":[-8,15],"nice":false,"zero":false},"axis":null},"y":{"field":"proc","type":"nominal","scale":{"type":"point","domain":["tH","ttH+tH","ttH","s2","ggF+bbH","ggF+VBF","VBF","s4","WH","WH+ZH","ZH"],"padding":1},"axis":null}}},
{"transform":[{"filter":"datum.ch == 'cc'"}],"mark":{"type":"tick","orient":"vertical","size":36,"thickness":5,"color":"#d4752e","opacity":1},"encoding":{"x":{"field":"thi","type":"quantitative","scale":{"domain":[-8,15],"nice":false,"zero":false},"axis":{"orient":"bottom","offset":0,"ticks":false,"labels":false,"values":[0],"maxExtent":0,"title":"σ × B normalized to SM prediction","titleX":245,"titleY":179,"titleAlign":"right","titleAnchor":"end","titleBaseline":"alphabetic","titleFontSize":53,"titleFontStyle":"normal"}},"y":{"field":"proc","type":"nominal","scale":{"type":"point","domain":["tH","ttH+tH","ttH","s2","ggF+bbH","ggF+VBF","VBF","s4","WH","WH+ZH","ZH"],"padding":1},"axis":null}}},
{"data":{"values":[{}]},"mark":{"type":"rule","color":"#f01e1e","strokeWidth":4},"encoding":{"x":{"datum":1,"type":"quantitative","scale":{"domain":[-8,15],"nice":false,"zero":false},"axis":null}}},
{"transform":[{"filter":"datum.ch == 'cc'"}],"mark":{"type":"point","filled":true,"color":"black","size":290,"opacity":1},"encoding":{"x":{"field":"val","type":"quantitative","scale":{"domain":[-8,15],"nice":false,"zero":false},"axis":{"orient":"bottom","offset":-24,"tickSize":24,"values":[-5,0,5,10],"format":"~g","labelExpr":"datum.value == -5 ? '' : datum.label","labelPadding":53,"labelBaseline":"alphabetic","title":"cc","titleY":139,"titleBaseline":"alphabetic","titleFontStyle":"italic"}},"y":{"field":"proc","type":"nominal","scale":{"type":"point","domain":["tH","ttH+tH","ttH","s2","ggF+bbH","ggF+VBF","VBF","s4","WH","WH+ZH","ZH"],"padding":1},"axis":null}}}
]}
]
}
